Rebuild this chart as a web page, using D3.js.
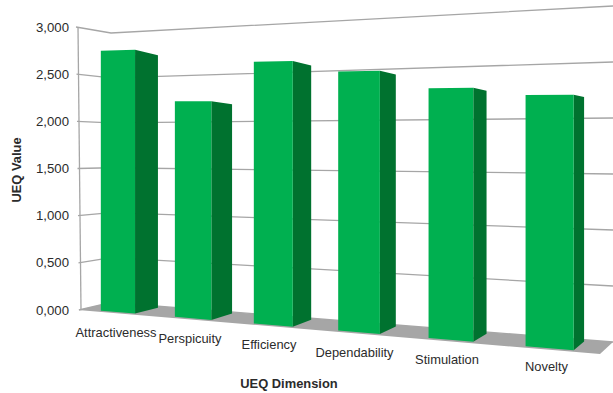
<!DOCTYPE html>
<html>
<head>
<meta charset="utf-8">
<style>
  html, body { margin: 0; padding: 0; background: #fff; }
  svg { display: block; }
  text { font-family: "Liberation Sans", Arial, sans-serif; fill: #2b2b2b; }
</style>
<script src="https://cdn.jsdelivr.net/npm/d3@7/dist/d3.min.js"></script>
</head>
<body>
<svg id="chart" width="613" height="393"></svg>
<script>
const categories = ["Attractiveness", "Perspicuity", "Efficiency", "Dependability", "Stimulation", "Novelty"];
const ueqValues = [2.75, 2.21, 2.6, 2.49, 2.32, 2.25];
const yTicks = [0, 0.5, 1, 1.5, 2, 2.5, 3];
const categoryLabelPos = [[116, 337], [190, 343], [269, 349], [354.5, 357], [447, 364], [546.5, 371]];

const svg = d3.select("#chart");

// Comma-decimal number format for the value axis
const fmt = d3.formatLocale({ decimal: ",", thousands: ".", grouping: [3], currency: ["", ""] }).format(".3f");

// Corner scales of the 3D box: each maps a value to screen y at one vertical edge
const yFrontLeft = d3.scaleLinear().domain([0, 3]).range([310, 27]);
const yBackLeft = d3.scaleLinear().domain([0, 3]).range([302.5, 33]);
const yBackRight = d3.scaleLinear().domain([0, 3]).range([342, 6]);
const yFrontRight = d3.scaleLinear().domain([0, 3]).range([354, 9]);
const xAxisEdge = d3.scaleLinear().domain([0, 3]).range([81, 78]);

const corner = { xFL: 78, xBL: 111, xBR: 613, xFR: 600 };
const lerp = d3.interpolateNumber;

// Bars are spaced evenly in floor coordinates; perspective widens them to the right
const band = d3.scaleBand().domain(categories).range([0, 1]).paddingInner(0.53).paddingOuter(0.265);
const warpK = 1.227;
const warp = u => u / (warpK - (warpK - 1) * u);

// Projects floor position t (left to right), depth d (front to back) and a value to the screen
function project(t, d, value) {
  const x = lerp(lerp(corner.xFL, corner.xFR)(t), lerp(corner.xBL, corner.xBR)(t))(d);
  const y = lerp(lerp(yFrontLeft(value), yFrontRight(value))(t), lerp(yBackLeft(value), yBackRight(value))(t))(d);
  return [x, y];
}

const poly = pts => pts.map(p => p.join(",")).join(" ");
const gridColor = "#a6a6a6";

// Floor
svg.append("polygon")
  .attr("points", poly([project(0, 0, 0), project(0, 1, 0), project(1, 1, 0), project(1, 0, 0)]))
  .attr("fill", "#a6a6a6");

// Gridlines across the side and back walls
svg.append("g").selectAll("polyline").data(yTicks).join("polyline")
  .attr("points", v => poly([[xAxisEdge(v) - 2, yFrontLeft(v)], project(0, 1, v), project(1, 1, v)]))
  .attr("fill", "none")
  .attr("stroke", gridColor)
  .attr("stroke-width", 1.3);

// Value axis line
svg.append("line")
  .attr("x1", xAxisEdge(3)).attr("y1", yFrontLeft(3))
  .attr("x2", xAxisEdge(0)).attr("y2", yFrontLeft(0))
  .attr("stroke", gridColor)
  .attr("stroke-width", 1.3);

// Tick labels
svg.append("g").selectAll("text").data(yTicks).join("text")
  .attr("x", 69)
  .attr("y", v => yFrontLeft(v) + 4.5)
  .attr("text-anchor", "end")
  .attr("font-size", 13.2)
  .text(fmt);

// Bars: dark side face, then bright front face
const depthFront = 0.12, depthBack = 0.86;
// The far edge of each side face is this fraction of the near edge's height
const sideShrink = 0.957;
const bars = svg.append("g").selectAll("g")
  .data(categories.map((c, i) => ({ c, v: ueqValues[i] })))
  .join("g");

bars.append("polygon")
  .attr("fill", "#00722f")
  .attr("points", b => {
    const t = warp(band(b.c) + band.bandwidth());
    const nearBase = project(t, depthFront, 0), nearTop = project(t, depthFront, b.v);
    const farBase = project(t, depthBack, 0);
    const farTop = [farBase[0], farBase[1] - (nearBase[1] - nearTop[1]) * sideShrink];
    return poly([nearBase, farBase, farTop, nearTop]);
  });

bars.append("polygon")
  .attr("fill", "#00b050")
  .attr("points", b => {
    const t0 = warp(band(b.c)), t1 = warp(band(b.c) + band.bandwidth());
    return poly([project(t0, depthFront, 0), project(t1, depthFront, 0), project(t1, depthFront, b.v), project(t0, depthFront, b.v)]);
  });

// Category labels
svg.append("g").selectAll("text").data(categories).join("text")
  .attr("x", (c, i) => categoryLabelPos[i][0])
  .attr("y", (c, i) => categoryLabelPos[i][1])
  .attr("text-anchor", "middle")
  .attr("font-size", 12.9)
  .text(c => c);

// Axis titles
svg.append("text")
  .attr("x", 289).attr("y", 388)
  .attr("text-anchor", "middle")
  .attr("font-size", 12.9)
  .attr("font-weight", "bold")
  .text("UEQ Dimension");

svg.append("text")
  .attr("transform", "translate(21,170) rotate(-90)")
  .attr("text-anchor", "middle")
  .attr("font-size", 12.9)
  .attr("font-weight", "bold")
  .text("UEQ Value");
</script>
</body>
</html>
